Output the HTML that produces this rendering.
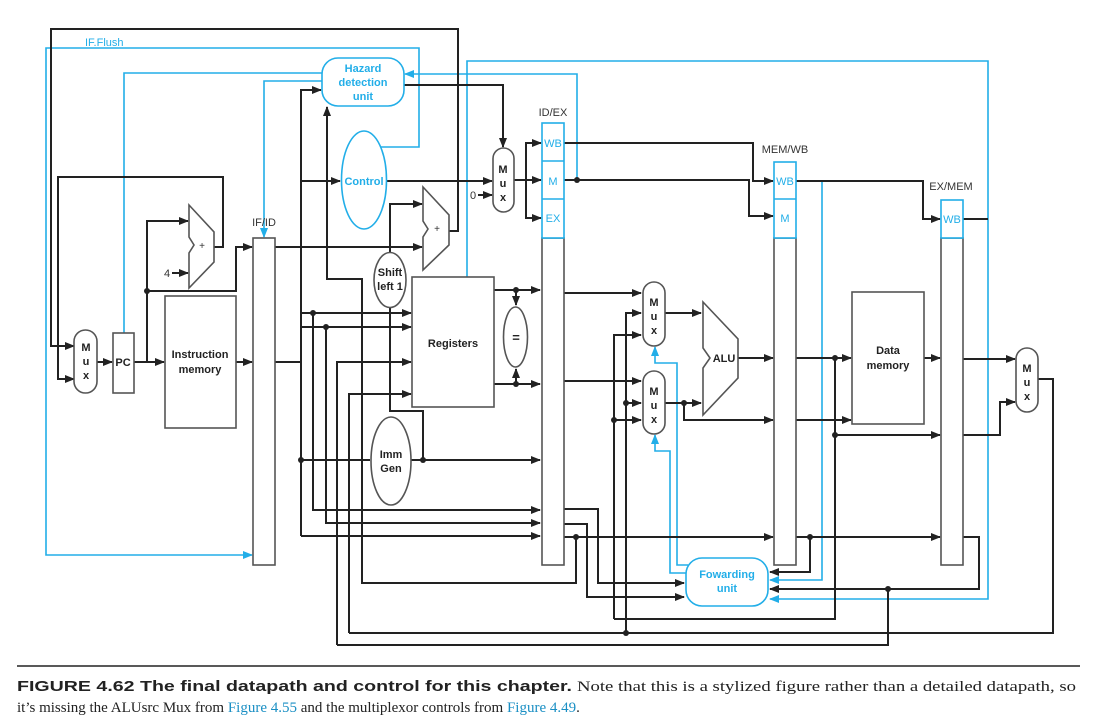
<!DOCTYPE html>
<html><head><meta charset="utf-8"><style>
html,body{margin:0;padding:0;background:#fff;}
svg{display:block;}
.k{stroke:#222;stroke-width:2;fill:none;}
.b{stroke:#22aee8;stroke-width:1.6;fill:none;}
.bx{stroke:#555;stroke-width:1.6;fill:#fff;}
.t{font-family:"Liberation Sans",sans-serif;font-weight:bold;font-size:11px;fill:#222;text-anchor:middle;}
.tb{font-family:"Liberation Sans",sans-serif;font-weight:bold;font-size:11px;fill:#22aee8;text-anchor:middle;}
.l{font-family:"Liberation Sans",sans-serif;font-size:11px;fill:#333;text-anchor:middle;}
.lb{font-family:"Liberation Sans",sans-serif;font-size:11px;fill:#22aee8;text-anchor:middle;}
</style></head><body>
<svg width="1097" height="726" viewBox="0 0 1097 726" xmlns="http://www.w3.org/2000/svg">
<defs>
<marker id="a" markerWidth="10" markerHeight="8" refX="9" refY="4" orient="auto" markerUnits="userSpaceOnUse"><path d="M0,0 L10,4 L0,8 z" fill="#222"/></marker>
<marker id="ab" markerWidth="10" markerHeight="8" refX="9" refY="4" orient="auto" markerUnits="userSpaceOnUse"><path d="M0,0 L10,4 L0,8 z" fill="#22aee8"/></marker>
</defs>

<!-- blue lines -->
<polyline class="b" points="381,147 419,147 419,48 46,48 46,555 252,555" marker-end="url(#ab)"/>
<polyline class="b" points="322,73 124,73 124,333"/>
<polyline class="b" points="322,81 264,81 264,237" marker-end="url(#ab)"/>
<polyline class="b" points="577,180 577,74 405,74" marker-end="url(#ab)"/>
<polyline class="b" points="467,277 467,61 988,61 988,599 770,599" marker-end="url(#ab)"/>
<polyline class="b" points="822,181 822,580 770,580" marker-end="url(#ab)"/>
<polyline class="b" points="688,565 677,565 677,363 655,363 655,347" marker-end="url(#ab)"/>
<polyline class="b" points="686,573 670,573 670,451 655,451 655,435" marker-end="url(#ab)"/>

<!-- black lines -->
<polyline class="k" points="449,231 458,231 458,29 51,29 51,346 74,346" marker-end="url(#a)"/>
<polyline class="k" points="214,247 223,247 223,177 58,177 58,379 74,379" marker-end="url(#a)"/>
<polyline class="k" points="97,362 112,362" marker-end="url(#a)"/>
<polyline class="k" points="134,362 164,362" marker-end="url(#a)"/>
<polyline class="k" points="147,362 147,221 188,221" marker-end="url(#a)"/>
<polyline class="k" points="172,273 188,273" marker-end="url(#a)"/>
<polyline class="k" points="147,291 236,291 236,247 252,247" marker-end="url(#a)"/>
<polyline class="k" points="236,362 252,362" marker-end="url(#a)"/>
<polyline class="k" points="275,247 422,247" marker-end="url(#a)"/>
<polyline class="k" points="275,362 301,362"/>
<polyline class="k" points="301,536 301,90 321,90" marker-end="url(#a)"/>
<polyline class="k" points="301,181 340,181" marker-end="url(#a)"/>
<polyline class="k" points="386,181 492,181" marker-end="url(#a)"/>
<polyline class="k" points="404,85 503,85 503,147" marker-end="url(#a)"/>
<polyline class="k" points="478,195 492,195" marker-end="url(#a)"/>
<polyline class="k" points="514,180 526,180 526,143 541,143" marker-end="url(#a)"/>
<polyline class="k" points="526,180 541,180" marker-end="url(#a)"/>
<polyline class="k" points="526,180 526,218 541,218" marker-end="url(#a)"/>
<polyline class="k" points="564,143 753,143 753,181 773,181" marker-end="url(#a)"/>
<polyline class="k" points="564,180 749,180 749,216 773,216" marker-end="url(#a)"/>
<polyline class="k" points="796,181 923,181 923,219 940,219" marker-end="url(#a)"/>
<polyline class="k" points="963,219 988,219"/>
<!-- hazard bottom loop -->
<polyline class="k" points="576,536 576,583 362,583 362,279 327,279 327,107" marker-end="url(#a)"/>
<!-- shift left -->
<polyline class="k" points="390,252 390,204 422,204" marker-end="url(#a)"/>
<polyline class="k" points="390,307 390,411 423,411 423,460"/>
<!-- registers inputs -->
<polyline class="k" points="301,313 411,313" marker-end="url(#a)"/>
<polyline class="k" points="301,327 411,327" marker-end="url(#a)"/>
<polyline class="k" points="313,313 313,510 540,510" marker-end="url(#a)"/>
<polyline class="k" points="326,327 326,523 540,523" marker-end="url(#a)"/>
<polyline class="k" points="301,536 540,536" marker-end="url(#a)"/>
<polyline class="k" points="337,645 337,362 411,362" marker-end="url(#a)"/>
<polyline class="k" points="349,633 349,394 411,394" marker-end="url(#a)"/>
<!-- imm gen -->
<polyline class="k" points="301,460 370,460"/>
<polyline class="k" points="410,460 540,460" marker-end="url(#a)"/>
<!-- registers outputs -->
<polyline class="k" points="494,290 540,290" marker-end="url(#a)"/>
<polyline class="k" points="494,384 540,384" marker-end="url(#a)"/>
<polyline class="k" points="516,290 516,305" marker-end="url(#a)"/>
<polyline class="k" points="516,384 516,369" marker-end="url(#a)"/>
<!-- ID/EX outputs -->
<polyline class="k" points="564,293 641,293" marker-end="url(#a)"/>
<polyline class="k" points="564,381 641,381" marker-end="url(#a)"/>
<polyline class="k" points="626,633 626,313 641,313" marker-end="url(#a)"/>
<polyline class="k" points="626,403 641,403" marker-end="url(#a)"/>
<polyline class="k" points="614,619 614,335 641,335" marker-end="url(#a)"/>
<polyline class="k" points="614,420 641,420" marker-end="url(#a)"/>
<polyline class="k" points="665,313 701,313" marker-end="url(#a)"/>
<polyline class="k" points="665,403 701,403" marker-end="url(#a)"/>
<polyline class="k" points="684,403 684,420 773,420" marker-end="url(#a)"/>
<polyline class="k" points="738,358 773,358" marker-end="url(#a)"/>
<polyline class="k" points="564,509 598,509 598,583 684,583" marker-end="url(#a)"/>
<polyline class="k" points="564,524 587,524 587,597 684,597" marker-end="url(#a)"/>
<polyline class="k" points="564,537 773,537" marker-end="url(#a)"/>
<!-- MEM/WB outputs -->
<polyline class="k" points="796,358 851,358" marker-end="url(#a)"/>
<polyline class="k" points="796,420 851,420" marker-end="url(#a)"/>
<polyline class="k" points="835,358 835,619 614,619"/>
<polyline class="k" points="835,435 940,435" marker-end="url(#a)"/>
<polyline class="k" points="924,358 940,358" marker-end="url(#a)"/>
<polyline class="k" points="796,537 940,537" marker-end="url(#a)"/>
<polyline class="k" points="810,537 810,572 770,572" marker-end="url(#a)"/>
<!-- EX/MEM outputs -->
<polyline class="k" points="963,359 1015,359" marker-end="url(#a)"/>
<polyline class="k" points="963,435 1000,435 1000,402 1015,402" marker-end="url(#a)"/>
<polyline class="k" points="963,537 979,537 979,589 770,589" marker-end="url(#a)"/>
<polyline class="k" points="888,589 888,645 337,645"/>
<polyline class="k" points="1038,379 1053,379 1053,633 349,633"/>

<!-- dots -->
<g fill="#222">
<circle cx="147" cy="291" r="3"/><circle cx="313" cy="313" r="3"/><circle cx="326" cy="327" r="3"/>
<circle cx="301" cy="460" r="3"/><circle cx="423" cy="460" r="3"/><circle cx="516" cy="290" r="3"/>
<circle cx="516" cy="384" r="3"/><circle cx="577" cy="180" r="3"/><circle cx="576" cy="537" r="3"/>
<circle cx="626" cy="403" r="3"/><circle cx="614" cy="420" r="3"/><circle cx="684" cy="403" r="3"/>
<circle cx="626" cy="633" r="3"/><circle cx="835" cy="358" r="3"/><circle cx="835" cy="435" r="3"/>
<circle cx="810" cy="537" r="3"/><circle cx="888" cy="589" r="3"/>
</g>

<!-- components -->
<rect class="bx" x="74" y="330" width="23" height="63" rx="11.5"/>
<text class="t" x="86" y="351">M</text><text class="t" x="86" y="365">u</text><text class="t" x="86" y="379">x</text>
<rect class="bx" x="113" y="333" width="21" height="60"/>
<text class="t" x="123" y="366">PC</text>
<rect class="bx" x="165" y="296" width="71" height="132"/>
<text class="t" x="200" y="358">Instruction</text><text class="t" x="200" y="373">memory</text>
<polygon class="bx" points="189,205 214,232 214,262 189,288 189,253 194,245 189,237"/>
<text class="l" x="202" y="249" style="font-size:10px">+</text>
<text class="l" x="167" y="277">4</text>
<polygon class="bx" points="423,187 449,215 449,245 423,270 423,237 428,229 423,221"/>
<text class="l" x="437" y="232" style="font-size:10px">+</text>
<rect class="bx" x="253" y="238" width="22" height="327"/>
<text class="l" x="264" y="226">IF/ID</text>
<rect x="322" y="58" width="82" height="48" rx="16" fill="#fff" stroke="#22aee8" stroke-width="1.6"/>
<text class="tb" x="363" y="72">Hazard</text><text class="tb" x="363" y="86">detection</text><text class="tb" x="363" y="100">unit</text>
<ellipse cx="364" cy="180" rx="22.5" ry="49" fill="#fff" stroke="#22aee8" stroke-width="1.6"/>
<text class="tb" x="364" y="185">Control</text>
<rect class="bx" x="493" y="148" width="21" height="64" rx="10.5"/>
<text class="t" x="503" y="173">M</text><text class="t" x="503" y="187">u</text><text class="t" x="503" y="201">x</text>
<text class="l" x="473" y="199">0</text>
<ellipse class="bx" cx="390" cy="280" rx="16" ry="27.5"/>
<text class="t" x="390" y="276">Shift</text><text class="t" x="390" y="290">left 1</text>
<rect class="bx" x="412" y="277" width="82" height="130"/>
<text class="t" x="453" y="347">Registers</text>
<ellipse class="bx" cx="515.5" cy="337" rx="12" ry="30"/>
<text class="t" x="516" y="342" style="font-size:13px">=</text>
<ellipse class="bx" cx="391" cy="461" rx="20" ry="44"/>
<text class="t" x="391" y="458">Imm</text><text class="t" x="391" y="472">Gen</text>
<!-- ID/EX -->
<rect class="bx" x="542" y="238" width="22" height="327"/>
<rect x="542" y="123" width="22" height="115" fill="#fff" stroke="#22aee8" stroke-width="1.6"/>
<line x1="542" y1="161" x2="564" y2="161" stroke="#22aee8" stroke-width="1.4"/>
<line x1="542" y1="199" x2="564" y2="199" stroke="#22aee8" stroke-width="1.4"/>
<text class="lb" x="553" y="147">WB</text><text class="lb" x="553" y="185">M</text><text class="lb" x="553" y="222">EX</text>
<text class="l" x="553" y="116">ID/EX</text>
<!-- muxes -->
<rect class="bx" x="643" y="282" width="22" height="64" rx="11"/>
<text class="t" x="654" y="306">M</text><text class="t" x="654" y="320">u</text><text class="t" x="654" y="334">x</text>
<rect class="bx" x="643" y="371" width="22" height="63" rx="11"/>
<text class="t" x="654" y="395">M</text><text class="t" x="654" y="409">u</text><text class="t" x="654" y="423">x</text>
<polygon class="bx" points="703,302 738,339 738,378 703,415 703,368 710,358 703,348"/>
<text class="t" x="724" y="362">ALU</text>
<!-- MEM/WB -->
<rect class="bx" x="774" y="238" width="22" height="327"/>
<rect x="774" y="162" width="22" height="76" fill="#fff" stroke="#22aee8" stroke-width="1.6"/>
<line x1="774" y1="199" x2="796" y2="199" stroke="#22aee8" stroke-width="1.4"/>
<text class="lb" x="785" y="185">WB</text><text class="lb" x="785" y="222">M</text>
<text class="l" x="785" y="153">MEM/WB</text>
<rect class="bx" x="852" y="292" width="72" height="132"/>
<text class="t" x="888" y="354">Data</text><text class="t" x="888" y="369">memory</text>
<!-- EX/MEM -->
<rect class="bx" x="941" y="238" width="22" height="327"/>
<rect x="941" y="200" width="22" height="38" fill="#fff" stroke="#22aee8" stroke-width="1.6"/>
<text class="lb" x="952" y="223">WB</text>
<text class="l" x="951" y="190">EX/MEM</text>
<rect class="bx" x="1016" y="348" width="22" height="64" rx="11"/>
<text class="t" x="1027" y="372">M</text><text class="t" x="1027" y="386">u</text><text class="t" x="1027" y="400">x</text>
<!-- forwarding -->
<rect x="686" y="558" width="82" height="48" rx="16" fill="#fff" stroke="#22aee8" stroke-width="1.6"/>
<text class="tb" x="727" y="578">Fowarding</text><text class="tb" x="727" y="592">unit</text>
<text class="lb" x="85" y="46" style="text-anchor:start">IF.Flush</text>

<!-- caption -->
<line x1="17" y1="666" x2="1080" y2="666" stroke="#222" stroke-width="1.5"/>
<text x="17" y="691" style="font-family:'Liberation Sans Narrow','Liberation Sans',sans-serif;font-weight:bold;font-size:15px;fill:#222" textLength="555" lengthAdjust="spacingAndGlyphs">FIGURE 4.62   The final datapath and control for this chapter.</text>
<text x="577" y="691" style="font-family:'Liberation Serif',serif;font-size:15px;fill:#222" textLength="499" lengthAdjust="spacingAndGlyphs">Note that this is a stylized figure rather than a detailed datapath, so</text>
<text x="17" y="712" style="font-family:'Liberation Serif',serif;font-size:15px;fill:#222">it’s missing the ALUsrc Mux from <tspan fill="#1a8fc4">Figure 4.55</tspan> and the multiplexor controls from <tspan fill="#1a8fc4">Figure 4.49</tspan>.</text>
</svg>
</body></html>
